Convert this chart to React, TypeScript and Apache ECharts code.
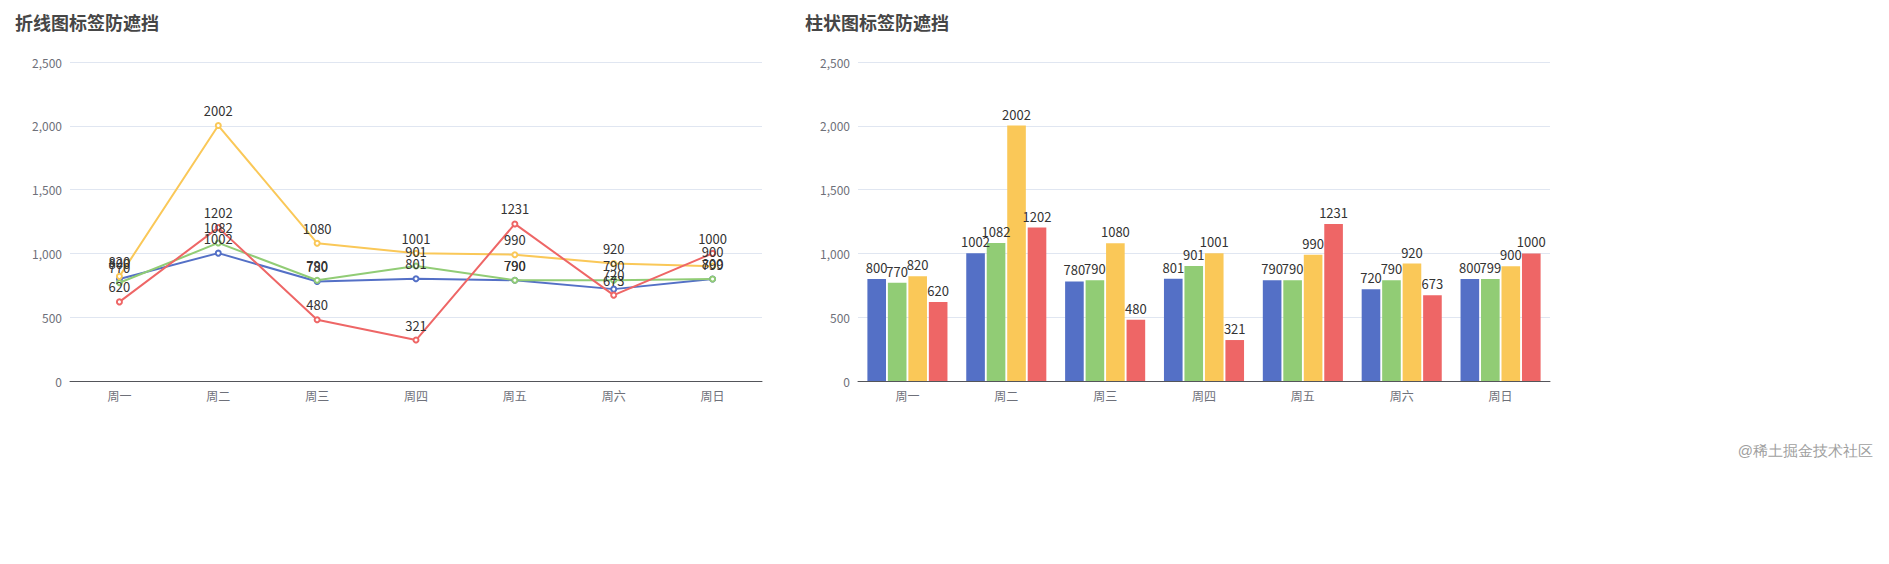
import { useEffect, useRef } from 'react'
import * as echarts from 'echarts'

const days = ['周一', '周二', '周三', '周四', '周五', '周六', '周日']
const s1 = [800, 1002, 780, 801, 790, 720, 800]
const s2 = [770, 1082, 790, 901, 790, 790, 799]
const s3 = [820, 2002, 1080, 1001, 990, 920, 900]
const s4 = [620, 1202, 480, 321, 1231, 673, 1000]
const allSeries = [s1, s2, s3, s4]
const colors = ['#5470c6', '#91cc75', '#fac858', '#ee6666']

export default function App() {
  const chartRef = useRef<HTMLDivElement>(null)

  useEffect(() => {
    if (!chartRef.current) return
    const chart = echarts.init(chartRef.current, null, { renderer: 'svg' })

    const label = { show: true, position: 'top', color: '#333', fontSize: 13 }
    const labelLayout = () => ({ moveOverlap: 'shiftY', hideOverlap: false })

    chart.setOption({
      animation: false,
      color: colors,
      textStyle: { fontFamily: '"Noto Sans CJK SC", "Noto Sans", sans-serif' },
      title: [
        { text: '折线图标签防遮挡', left: 2, top: 0, textStyle: { fontSize: 18, color: '#464646' } },
        { text: '柱状图标签防遮挡', left: 792, top: 0, textStyle: { fontSize: 18, color: '#464646' } },
      ],
      grid: [
        { left: 62, width: 692, top: 54, height: 319 },
        { left: 850, width: 692, top: 54, height: 319 },
      ],
      xAxis: [0, 1].map((i) => ({
        type: 'category',
        gridIndex: i,
        data: days,
        axisLabel: { color: '#6E7079', fontSize: 12 },
      })),
      yAxis: [0, 1].map((i) => ({
        type: 'value',
        gridIndex: i,
        min: 0,
        max: 2500,
        interval: 500,
        axisLabel: { color: '#6E7079', fontSize: 12 },
        splitLine: { lineStyle: { color: '#E0E6F1' } },
      })),
      series: [
        ...allSeries.map((d) => ({
          type: 'line',
          xAxisIndex: 0,
          yAxisIndex: 0,
          data: d,
          symbolSize: 5,
          lineStyle: { width: 2 },
          label,
          labelLayout,
        })),
        ...allSeries.map((d) => ({
          type: 'bar',
          xAxisIndex: 1,
          yAxisIndex: 1,
          data: d,
          label,
          labelLayout,
        })),
      ],
      graphic: [
        {
          type: 'text',
          right: 8,
          bottom: 98,
          style: { text: '@稀土掘金技术社区', fill: '#a0a0a0', fontSize: 15 },
        },
      ],
    })

    return () => chart.dispose()
  }, [])

  return <div ref={chartRef} style={{ width: 1873, height: 548 }} />
}
